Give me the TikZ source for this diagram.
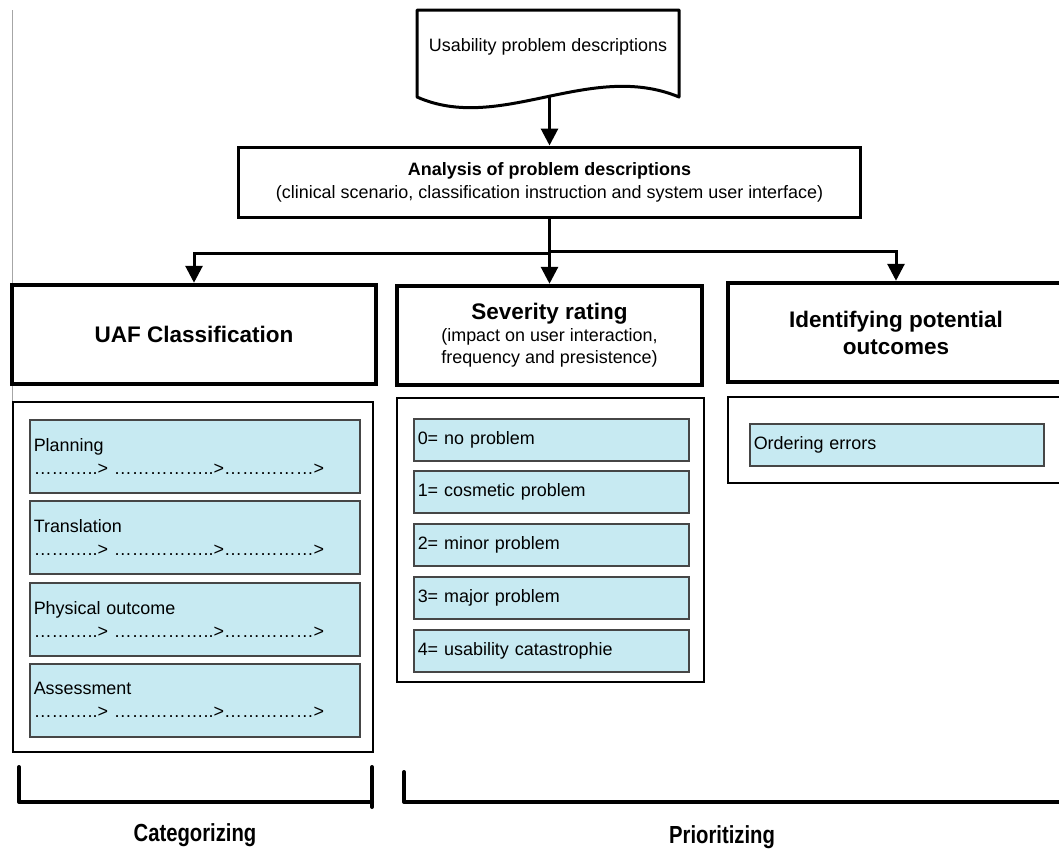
\documentclass[tikz,border=0pt]{standalone}
\usepackage{fontspec}
\setmainfont{Liberation Sans}
\newfontfamily\narrowsans[FakeStretch=0.82]{Liberation Sans}
\usetikzlibrary{arrows.meta}
\definecolor{itemblue}{RGB}{199,234,242}
\definecolor{itemedge}{RGB}{70,70,70}

\begin{document}
\begin{tikzpicture}[x=1bp, y=-1bp, every node/.style={font=\fontsize{18}{22}\selectfont},
  conn/.style={line width=3bp, -{Triangle[width=17bp,length=17bp]}},
  head/.style={draw, line width=4.5bp, minimum height=99bp, inner sep=0pt, align=center},
  frame/.style={draw, line width=2.5bp, inner sep=0pt},
  item/.style={draw=itemedge, line width=1.5bp, fill=itemblue, inner sep=4bp, align=left, anchor=north west},
  uafitem/.style={item, text width=322bp, minimum height=73bp, font=\fontsize{18}{23}\selectfont},
  sevitem/.style={item, text width=267bp, minimum height=42bp},
  brace/.style={line width=4bp, line join=round, line cap=round},
  bottom/.style={font=\narrowsans\bfseries\fontsize{24.8}{28}\selectfont}]
  \useasboundingbox (0,0) rectangle (1059,852);
  \clip (0,0) rectangle (1059,852);
  \draw[gray!70, line width=1bp] (12,10) -- (12,428);
  \draw[line width=3bp, line join=round] (417,10) -- (679,10) -- (679,97)
      .. controls (590,60) and (500,134) .. (417,97) -- cycle;
  \node (doc) at (548,47) {Usability problem descriptions};
  \coordinate (docb) at (549.5,97);
  \node[draw, line width=3bp, minimum width=621bp, minimum height=70bp, align=center,
      font=\fontsize{18}{23}\selectfont] (ana) at (549.5,182)
      {\textbf{Analysis of problem descriptions}\\(clinical scenario, classification instruction and system user interface)};
  \node[head, minimum width=364bp, font=\fontsize{22.6}{27}\selectfont\bfseries] (uaf) at (194,334.5) {UAF Classification};
  \node[head, minimum width=305bp, font=\fontsize{18}{22}\selectfont] (sev) at (549.5,335.5)
      {{\fontsize{22.6}{26}\selectfont\bfseries Severity rating}\\(impact on user interaction,\\frequency and presistence)};
  \node[head, minimum width=336bp, font=\fontsize{22.6}{27}\selectfont\bfseries] (out) at (896,332.5)
      {Identifying potential\\outcomes};
  \draw[conn] (docb) -- (ana.north);
  \draw[conn] (ana.south) -- (sev.north);
  \draw[conn] (ana.south) ++(0,35) -| (uaf.north);
  \draw[conn] (ana.south) ++(0,33) -| (out.north);
  \node[frame, minimum width=360bp, minimum height=350bp] (uafbox) at (193,577) {};
  \node[frame, minimum width=307bp, minimum height=284bp] (sevbox) at (550.5,540) {};
  \node[frame, minimum width=342bp, minimum height=86bp] (outbox) at (899,440) {};
  \node[uafitem] (u1) at (29,419) {Planning\\………..> ……………..>……………>};
  \node[uafitem] (u2) at (29,500) {Translation\\………..> ……………..>……………>};
  \node[uafitem] (u3) at (29,582) {Physical outcome\\………..> ……………..>……………>};
  \node[uafitem] (u4) at (29,663) {Assessment\\………..> ……………..>……………>};
  \node[sevitem] (s0) at (413,418) {0= no problem};
  \node[sevitem] (s1) at (413,470) {1= cosmetic problem};
  \node[sevitem] (s2) at (413,523) {2= minor problem};
  \node[sevitem] (s3) at (413,576) {3= major problem};
  \node[sevitem] (s4) at (413,629) {4= usability catastrophie};
  \node[item, text width=286bp, minimum height=42bp] (o1) at (749,423) {Ordering errors};
  \draw[brace] (19,767) -- (19,802) -- (372,802);
  \draw[brace] (372,767) -- (372,807);
  \draw[brace] (404,772) -- (404,802) -- (1065,802);
  \node[bottom] (cat) at (195,835) {Categorizing};
  \node[bottom] (pri) at (722,837) {Prioritizing};
\end{tikzpicture}
\end{document}
